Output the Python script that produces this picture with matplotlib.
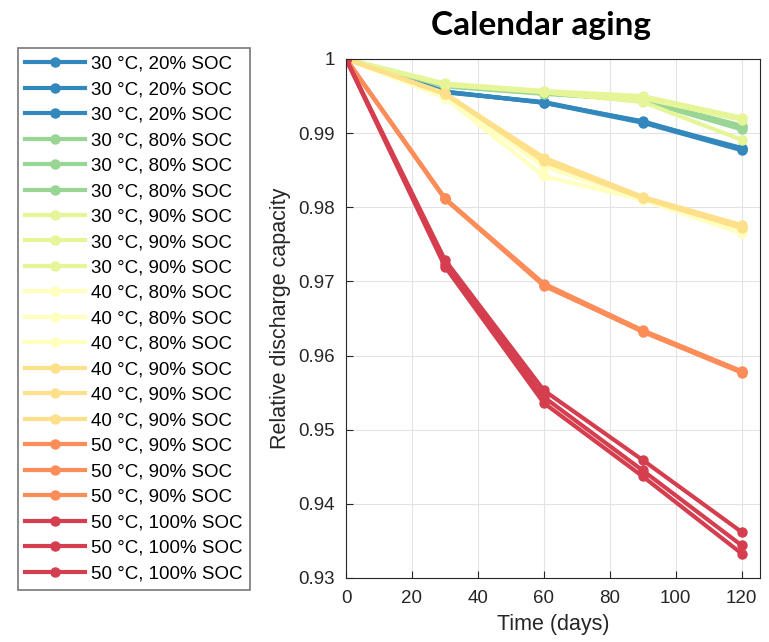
import numpy as np
import matplotlib.pyplot as plt

plt.rcParams['font.family'] = ['Liberation Sans', 'DejaVu Sans']

days = [0, 30, 60, 90, 120]

labels = ["30 °C, 20% SOC"] * 3 + ["30 °C, 80% SOC"] * 3 + ["30 °C, 90% SOC"] * 3 + \
         ["40 °C, 80% SOC"] * 3 + ["40 °C, 90% SOC"] * 3 + ["50 °C, 90% SOC"] * 3 + \
         ["50 °C, 100% SOC"] * 3

colors = ["#3288bd"] * 3 + ["#99d594"] * 3 + ["#e6f598"] * 3 + ["#ffffbf"] * 3 + \
         ["#fee08b"] * 3 + ["#fc8d59"] * 3 + ["#d53e4f"] * 3

capacity = [
    [1.0, 0.9956, 0.9941, 0.9916, 0.9878],
    [1.0, 0.9955, 0.9942, 0.9915, 0.9880],
    [1.0, 0.9956, 0.9941, 0.9914, 0.9877],
    [1.0, 0.9964, 0.9954, 0.9944, 0.9905],
    [1.0, 0.9963, 0.9953, 0.9945, 0.9910],
    [1.0, 0.9965, 0.9955, 0.9943, 0.9908],
    [1.0, 0.9967, 0.9957, 0.9950, 0.9921],
    [1.0, 0.9966, 0.9956, 0.9947, 0.9918],
    [1.0, 0.9965, 0.9955, 0.9942, 0.9891],
    [1.0, 0.9948, 0.9842, 0.9810, 0.9765],
    [1.0, 0.9950, 0.9855, 0.9811, 0.9770],
    [1.0, 0.9952, 0.9860, 0.9812, 0.9773],
    [1.0, 0.9953, 0.9867, 0.9814, 0.9776],
    [1.0, 0.9953, 0.9862, 0.9812, 0.9772],
    [1.0, 0.9954, 0.9864, 0.9813, 0.9774],
    [1.0, 0.9812, 0.9697, 0.9634, 0.9579],
    [1.0, 0.9811, 0.9695, 0.9632, 0.9577],
    [1.0, 0.9812, 0.9694, 0.9633, 0.9578],
    [1.0, 0.9729, 0.9553, 0.9459, 0.9362],
    [1.0, 0.9724, 0.9544, 0.9445, 0.9344],
    [1.0, 0.9720, 0.9536, 0.9437, 0.9333],
]

fig = plt.figure(figsize=(7.69, 6.42), dpi=100)
ax = fig.add_axes([0.45, 0.0997, 0.538, 0.8084])

handles = []
for y, c, lab in zip(capacity, colors, labels):
    h, = ax.plot(days, y, '-o', color=c, lw=3, ms=6.5, label=lab)
    handles.append(h)

ax.set_xlim(0, 125.5)
ax.set_ylim(0.93, 1.0)
ax.set_xticks([0, 20, 40, 60, 80, 100, 120])
ax.set_yticks([0.93, 0.94, 0.95, 0.96, 0.97, 0.98, 0.99, 1.0])
ax.set_yticklabels(["0.93", "0.94", "0.95", "0.96", "0.97", "0.98", "0.99", "1"])
ax.grid(True, color='#e3e3e3', lw=0.8)
ax.set_axisbelow(True)
ax.tick_params(labelsize=13.5, colors='#262626', direction='in', length=5)
ax.tick_params(axis='x', pad=9)
ax.tick_params(axis='y', pad=8)
for s in ax.spines.values():
    s.set_color('#262626')
ax.set_xlabel("Time (days)", fontsize=15.5, color='#262626', labelpad=5)
ax.set_ylabel("Relative discharge capacity", fontsize=15.5, color='#262626', labelpad=5)
fig.text(0.703, 0.961, "Calendar aging", ha='center', va='center',
         fontsize=24, fontweight='bold', family=['Lato', 'DejaVu Sans'])

leg = fig.legend(handles=handles, loc='upper left', bbox_to_anchor=(0.023, 0.925),
                 fontsize=13.5, handlelength=3.2, handletextpad=0.3, labelspacing=0.445,
                 frameon=True, fancybox=False, edgecolor='#555555', borderpad=0.4,
                 borderaxespad=0)
leg.get_frame().set_linewidth(1.2)
for line in leg.get_lines():
    line.set_linewidth(3)
    line.set_markersize(6.5)

fig.savefig("out.png", dpi=100)
